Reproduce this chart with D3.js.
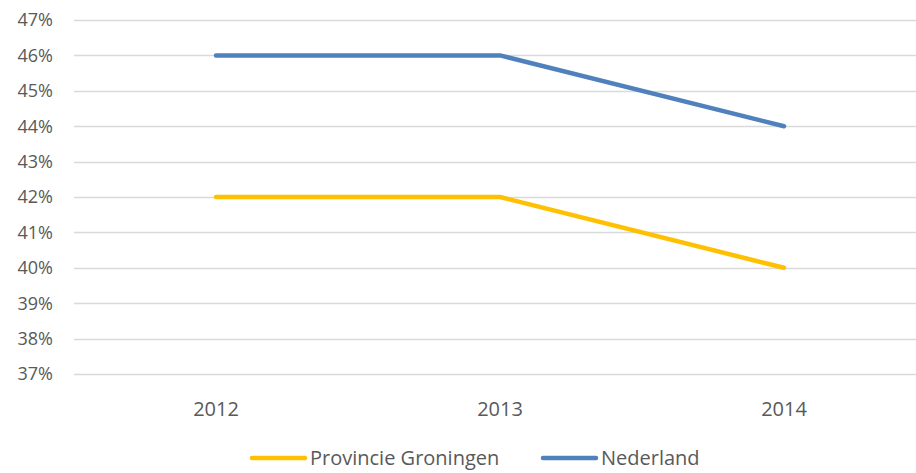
<!DOCTYPE html>
<html>
<head>
<meta charset="utf-8">
<script src="https://cdn.jsdelivr.net/npm/d3@7"></script>
<style>
  body { margin: 0; background: #fff; }
  svg { display: block; overflow: hidden; }
  text { font-family: "Open Sans", sans-serif; fill: #595959; }
</style>
</head>
<body>
<div id="chart"></div>
<script>
// ============= Data =============
const years = ["2012", "2013", "2014"];
const groningen = [0.42, 0.42, 0.40];
const nederland = [0.46, 0.46, 0.44];
const yTicks = [0.37, 0.38, 0.39, 0.40, 0.41, 0.42, 0.43, 0.44, 0.45, 0.46, 0.47];

const series = [
    { name: "Provincie Groningen", values: groningen, color: "#FFC000" },
    { name: "Nederland", values: nederland, color: "#4F81BD" }
];

const width = 916;
const height = 473;
const margin = { top: 20, right: -10, bottom: 98, left: 74 };

const svg = d3.select("#chart")
    .append("svg")
    .attr("width", width)
    .attr("height", height);

const x = d3.scaleBand()
    .domain(years)
    .range([margin.left, width - margin.right]);

const y = d3.scaleLinear()
    .domain([0.37, 0.47])
    .range([height - margin.bottom - 1, margin.top]);

// gridlines
svg.append("g")
    .selectAll("line")
    .data(yTicks)
    .join("line")
    .attr("x1", margin.left)
    .attr("x2", width - margin.right)
    .attr("y1", d => Math.round(y(d)) + 0.5)
    .attr("y2", d => Math.round(y(d)) + 0.5)
    .attr("stroke", "#d9d9d9")
    .attr("stroke-width", 1.5);

// y axis labels
svg.append("g")
    .selectAll("text")
    .data(yTicks)
    .join("text")
    .attr("x", 53)
    .attr("y", d => y(d))
    .attr("dy", "0.35em")
    .attr("text-anchor", "end")
    .style("font-size", "18px")
    .text(d => d3.format(".0%")(d));

// x axis labels
svg.append("g")
    .selectAll("text")
    .data(years)
    .join("text")
    .attr("x", d => x(d) + x.bandwidth() / 2)
    .attr("y", 409)
    .attr("dy", "0.35em")
    .attr("text-anchor", "middle")
    .style("font-size", "20px")
    .text(d => d);

// lines
const line = d3.line()
    .x((d, i) => x(years[i]) + x.bandwidth() / 2)
    .y(d => y(d));

svg.append("g")
    .selectAll("path")
    .data(series)
    .join("path")
    .attr("d", d => line(d.values))
    .attr("fill", "none")
    .attr("stroke", d => d.color)
    .attr("stroke-width", 4.5)
    .attr("stroke-linecap", "round")
    .attr("stroke-linejoin", "round");

// legend
const legendX = [252, 543];
const legend = svg.append("g")
    .selectAll("g")
    .data(series)
    .join("g")
    .attr("transform", (d, i) => `translate(${legendX[i]}, 458)`);

legend.append("line")
    .attr("x1", 0)
    .attr("x2", 53)
    .attr("stroke", d => d.color)
    .attr("stroke-width", 4.5)
    .attr("stroke-linecap", "round");

legend.append("text")
    .attr("x", 58)
    .attr("dy", "0.35em")
    .style("font-size", "20px")
    .text(d => d.name);
</script>
</body>
</html>
